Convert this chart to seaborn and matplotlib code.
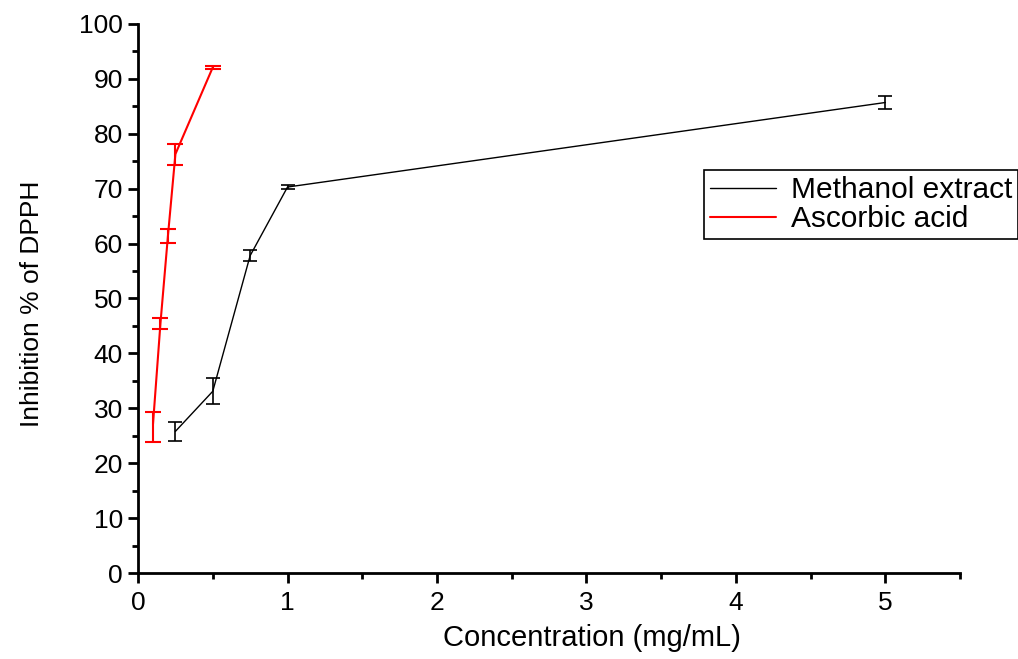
"""
DPPH radical scavenging: inhibition % vs concentration
for methanol extract and ascorbic acid standard.
"""

import matplotlib

matplotlib.use("Agg")

import matplotlib.pyplot as plt
import pandas as pd
import seaborn as sns
from matplotlib.ticker import MultipleLocator


methanol_conc = [0.25, 0.5, 0.75, 1.0, 5.0]
methanol_inhibition = [25.8, 33.1, 57.8, 70.3, 85.7]
methanol_err = [1.7, 2.4, 1.0, 0.4, 1.1]

ascorbic_conc = [0.1, 0.15, 0.2, 0.25, 0.5]
ascorbic_inhibition = [27.1, 45.5, 61.4, 76.3, 92.1]
ascorbic_err_low = [3.2, 1.0, 1.3, 1.9, 0.3]
ascorbic_err_high = [2.2, 1.0, 1.3, 1.9, 0.3]

x_ticks = [0, 1, 2, 3, 4, 5]
y_ticks = list(range(0, 101, 10))


def main() -> None:
    sns.set_style("ticks")
    plt.rcParams["font.family"] = ["Liberation Sans", "DejaVu Sans"]
    plt.rcParams["text.color"] = "black"

    methanol = pd.DataFrame({"conc": methanol_conc, "inh": methanol_inhibition})
    ascorbic = pd.DataFrame({"conc": ascorbic_conc, "inh": ascorbic_inhibition})

    fig = plt.figure(figsize=(10.18, 6.59), dpi=100)
    ax = fig.add_axes([0.1356, 0.1305, 0.8075, 0.8331])

    sns.lineplot(data=methanol, x="conc", y="inh", color="black", linewidth=1.0,
                 label="Methanol extract", ax=ax)
    sns.lineplot(data=ascorbic, x="conc", y="inh", color="#ff0000", linewidth=1.5,
                 label="Ascorbic acid", ax=ax)

    ax.errorbar(methanol_conc, methanol_inhibition, yerr=methanol_err, fmt="none",
                ecolor="black", elinewidth=1.2, capsize=5, capthick=1.2)
    ax.errorbar(ascorbic_conc, ascorbic_inhibition,
                yerr=[ascorbic_err_low, ascorbic_err_high], fmt="none",
                ecolor="#ff0000", elinewidth=1.5, capsize=6, capthick=1.5)

    ax.set_xlim(0, 5.5)
    ax.set_ylim(0, 100)
    ax.set_xticks(x_ticks)
    ax.set_yticks(y_ticks)
    ax.xaxis.set_minor_locator(MultipleLocator(0.5))
    ax.yaxis.set_minor_locator(MultipleLocator(5))

    for side in ["top", "right"]:
        ax.spines[side].set_visible(False)
    for side in ["left", "bottom"]:
        ax.spines[side].set_linewidth(2)
        ax.spines[side].set_color("black")

    ax.tick_params(axis="both", which="major", direction="out", length=7, width=2,
                   labelsize=19, colors="black")
    ax.tick_params(axis="both", which="minor", direction="out", length=4, width=2,
                   colors="black")
    ax.tick_params(axis="x", pad=6)
    ax.tick_params(axis="y", pad=4)

    ax.set_xlabel("Concentration (mg/mL)", fontsize=21, color="black")
    ax.set_ylabel("Inhibition % of DPPH", fontsize=19, color="black")
    ax.xaxis.set_label_coords(0.552, -0.093)
    ax.yaxis.set_label_coords(-0.115, 0.49)

    # legend runs off the right edge of the figure, as in the original export
    legend = ax.legend(loc="upper left", bbox_to_anchor=(0.6916, 0.742),
                       bbox_transform=fig.transFigure, fontsize=21.5, frameon=True,
                       fancybox=False, framealpha=1, edgecolor="black",
                       handlelength=2.2, handletextpad=0.5, borderpad=0.2,
                       labelspacing=0.05, borderaxespad=0)
    legend.get_frame().set_linewidth(1.2)
    for text in legend.get_texts():
        text.set_color("black")

    fig.savefig("out.png", dpi=100)
    plt.close(fig)


if __name__ == "__main__":
    main()
